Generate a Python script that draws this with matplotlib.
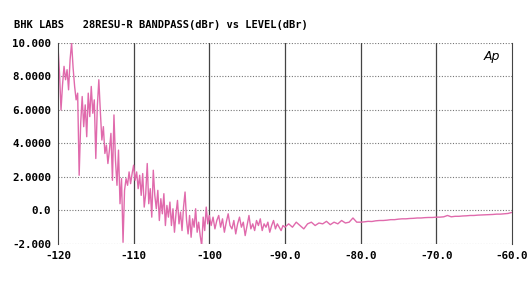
import numpy as np
import matplotlib.pyplot as plt

seg1_start, seg1_step = -120.0, 0.2
seg1_vals = [9.8, 8.2, 6.0, 7.5, 8.6, 7.8, 8.4, 7.2, 9.0, 10.0,
             8.5, 7.4, 6.6, 7.0, 2.1, 5.2, 6.8, 5.0, 6.3, 4.4,
             7.0, 5.6, 7.4, 5.8, 6.6, 3.1, 6.2, 7.8, 5.9, 4.2,
             5.0, 3.4, 3.9, 2.8, 3.6, 4.6, 1.8, 5.7, 3.0, 1.5,
             3.6, 0.4, 1.9, -1.9, 1.2, 1.9, 1.5, 2.3, 1.6, 2.2,
             2.7, 1.8, 2.3, 1.3, 2.1, 0.9, 2.2, 0.2, 1.0, 2.8,
             0.4, 1.3, -0.4, 2.4, 0.9, 0.1, 1.2, -0.6, 0.7, -0.2,
             1.0, -0.9, 0.3, -0.4, 0.5, -0.9, 0.1, -1.3, -0.2, 0.6,
             -0.8, -0.1, -1.2, 0.2, 1.1, -0.6, -1.4, -0.3, -1.6, -0.5,
             -1.0, 0.1, -1.3, -0.7, -1.5, -2.1, -0.4, -1.2, 0.2, -0.8,
             -0.3]
seg2_start, seg2_step = -99.75, 0.25
seg2_vals = [-0.9, -0.4, -1.1, -0.6, -0.3, -1.0, -0.5, -1.3, -0.7, -0.2,
             -0.9, -1.1, -0.6, -1.4, -0.8, -0.4, -1.0, -0.7, -1.5, -0.9,
             -0.3, -1.1, -0.8, -1.2, -0.6, -0.9, -0.5, -1.2, -0.8, -1.0,
             -0.7, -1.3, -0.9, -0.6, -1.1, -0.8, -1.0, -1.2, -0.9, -1.0]
seg3_start, seg3_step = -89.5, 0.5
seg3_vals = [-0.8, -1.0, -0.7, -0.9, -1.1, -0.8, -0.7, -0.9, -0.75, -0.8,
             -0.65, -0.85, -0.7, -0.8, -0.6, -0.75, -0.7, -0.45, -0.7, -0.7,
             -0.68, -0.65, -0.66, -0.62, -0.6, -0.6, -0.58, -0.55, -0.55, -0.52,
             -0.5, -0.5, -0.48, -0.47, -0.45, -0.45, -0.43, -0.42, -0.42, -0.4,
             -0.4, -0.38, -0.3, -0.38, -0.35, -0.35, -0.33, -0.32, -0.3, -0.3,
             -0.28, -0.27, -0.26, -0.25, -0.24, -0.22, -0.22, -0.2, -0.18, -0.12]

x_ticks = [-120, -110, -100, -90, -80, -70, -60]
x_labels = ['-120', '-110', '-100', '-90.0', '-80.0', '-70.0', '-60.0']
y_ticks = [-2, 0, 2, 4, 6, 8, 10]
y_labels = ['-2.000', '0.0', '2.0000', '4.0000', '6.0000', '8.0000', '10.000']


def build_sweep():
    xs, ys = [], []
    for start, step, vals in [(seg1_start, seg1_step, seg1_vals),
                              (seg2_start, seg2_step, seg2_vals),
                              (seg3_start, seg3_step, seg3_vals)]:
        xs += [start + i * step for i in range(len(vals))]
        ys += vals
    return np.array(xs), np.array(ys)


def main():
    plt.rcParams['font.family'] = ['DejaVu Sans Mono']
    fig = plt.figure(figsize=(5.32, 2.84), dpi=100)
    ax = fig.add_axes([0.109, 0.141, 0.853, 0.708])

    x, y = build_sweep()
    ax.plot(x, y, color='#e06aac', lw=1.0)

    ax.set_xlim(-120, -60)
    ax.set_ylim(-2, 10)
    ax.set_xticks(x_ticks)
    ax.set_xticklabels(x_labels)
    ax.set_yticks(y_ticks)
    ax.set_yticklabels(y_labels)
    ax.tick_params(length=0, labelsize=7.8, pad=5)
    for lab in ax.get_xticklabels() + ax.get_yticklabels():
        lab.set_fontweight('bold')

    # horizontal dotted grid, vertical solid grid
    for yv in y_ticks:
        ax.axhline(yv, color='#777777', lw=0.8, ls=(0, (1, 1.5)), zorder=0)
    for xv in x_ticks[1:-1]:
        ax.axvline(xv, color='#444444', lw=0.9, zorder=0)
    ax.spines['top'].set_visible(False)
    ax.spines['bottom'].set_visible(False)
    ax.spines['left'].set_color('#444444')
    ax.spines['right'].set_color('#444444')

    ax.text(0.955, 0.93, 'Ap', transform=ax.transAxes, style='italic',
            family='DejaVu Sans', fontsize=9, ha='center', va='center')
    fig.text(0.026, 0.912, 'BHK LABS   28RESU-R BANDPASS(dBr) vs LEVEL(dBr)',
             fontsize=7.5, fontweight='bold', va='center')

    fig.savefig('out.png', dpi=100)


if __name__ == "__main__":
    main()
